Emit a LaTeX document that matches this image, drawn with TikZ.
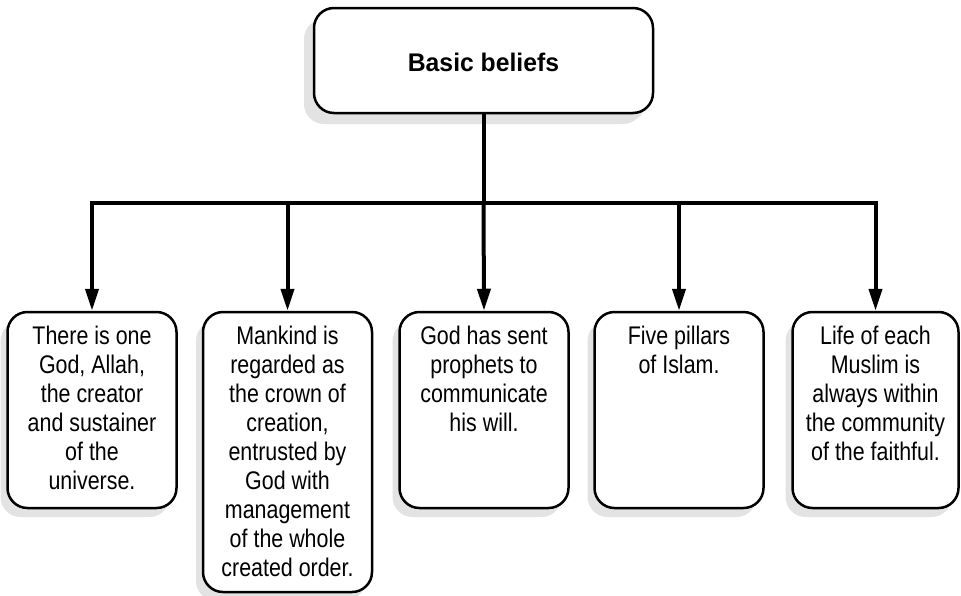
\documentclass[tikz,border=0pt]{standalone}
\usepackage{fontspec}
\setmainfont{Liberation Sans}
\newfontfamily\boxfont[FakeStretch=0.84]{Liberation Sans}
\newfontfamily\titlefont[FakeStretch=0.97]{Liberation Sans}
\usetikzlibrary{arrows.meta,shadows}
\definecolor{shade}{gray}{0.89}
\begin{document}
\begin{tikzpicture}[x=1pt,y=-1pt,
  box/.style={draw=black,line width=2.5pt,rounded corners=20pt,fill=white,
    inner sep=0pt,
    drop shadow={shadow xshift=-7pt,shadow yshift=-9pt,fill=shade,opacity=1}},
  smallbox/.style={box,minimum width=169pt,minimum height=196pt},
  label/.style={anchor=north,inner sep=0pt,align=center,
    font=\boxfont\fontsize{25.5}{29}\selectfont},
  conn/.style={line width=4pt,draw=black},
  arr/.style={conn,-{Triangle[length=22pt,width=13pt]}}]
\useasboundingbox (0,0) rectangle (961,595);

\node[box,minimum width=339pt,minimum height=105pt,
  drop shadow={shadow xshift=-10pt,shadow yshift=-11pt,fill=shade,opacity=1}] (top) at (483.5,60.5) {};
\node[inner sep=0pt,font=\titlefont\bfseries\fontsize{25.5}{29}\selectfont] (title) at (483.5,62) {Basic beliefs};

\node[smallbox] (b1) at (92,410) {};
\node[smallbox,minimum height=280pt] (b2) at (287.5,452) {};
\node[smallbox] (b3) at (484,410) {};
\node[smallbox] (b4) at (679,410) {};
\node[smallbox,minimum width=166pt] (b5) at (875.5,410) {};

\node[label] (t1) at (92,326) {There is one\\God, Allah,\\the creator\\and sustainer\\of the\\universe.};
\node[label] (t2) at (287.5,326) {Mankind is\\regarded as\\the crown of\\creation,\\entrusted by\\God with\\management\\of the whole\\created order.};
\node[label] (t3) at (484,326) {God has sent\\prophets to\\communicate\\his will.};
\node[label] (t4) at (679,326) {Five pillars\\of Islam.};
\node[label] (t5) at (875.5,326) {Life of each\\Muslim is\\always within\\the community\\of the faithful.};

\coordinate (c1) at (92,203);
\coordinate (c2) at (287.5,203);
\coordinate (c3) at (483.5,203);
\coordinate (c4) at (679,203);
\coordinate (c5) at (875.5,203);

\draw[conn] (top.south) -- (c3);
\draw[conn,line cap=rect] (c1) -- (c5);
\draw[arr] (c1) -- (b1.north);
\draw[arr] (c2) -- (b2.north);
\draw[arr] (c3) -- (b3.north);
\draw[arr] (c4) -- (b4.north);
\draw[arr] (c5) -- (b5.north);
\end{tikzpicture}
\end{document}
